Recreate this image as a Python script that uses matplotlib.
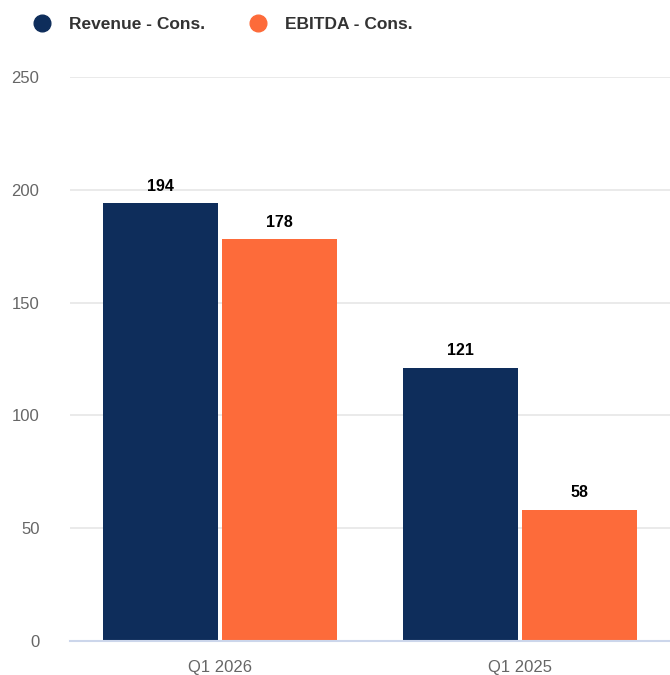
import numpy as np
import matplotlib.pyplot as plt
from matplotlib.lines import Line2D

plt.rcParams['font.family'] = ['Liberation Sans', 'DejaVu Sans']

# data
categories = ["Q1 2026", "Q1 2025"]
revenue = [194, 121]
ebitda = [178, 58]
series_names = ["Revenue - Cons.", "EBITDA - Cons."]
colors = ["#0e2d5b", "#fd6b3a"]

W, H = 670, 675
fig = plt.figure(figsize=(W / 100, H / 100), dpi=100)
ax = fig.add_axes([70 / W, (H - 641) / H, 600 / W, 564 / H])

x = np.arange(len(categories))
bw = 0.385
gap = 0.012

for vals, off, c in [(revenue, -(bw + gap) / 2, colors[0]), (ebitda, (bw + gap) / 2, colors[1])]:
    bars = ax.bar(x + off, vals, width=bw, color=c, zorder=3)
    for b, v in zip(bars, vals):
        ax.annotate(f"{v}", (b.get_x() + b.get_width() / 2, v), xytext=(0, 7),
                    textcoords="offset points", ha="center", va="bottom",
                    fontsize=11.5, fontweight="bold", color="black")

ax.set_xlim(-0.5, 1.5)
ax.set_ylim(0, 250)
ax.set_yticks([0, 50, 100, 150, 200, 250])
ax.set_xticks(x)
ax.set_xticklabels(categories)
ax.grid(axis="y", color="#e6e6e6", linewidth=1.2, zorder=0)
for s in ["top", "right", "left"]:
    ax.spines[s].set_visible(False)
ax.spines["bottom"].set_color("#ccd6eb")
ax.spines["bottom"].set_linewidth(1.5)
ax.spines["bottom"].set_zorder(4)
ax.tick_params(axis="both", length=0, labelsize=12, labelcolor="#666666")
ax.tick_params(axis="y", pad=22)
ax.tick_params(axis="x", pad=14)

handles = [Line2D([], [], marker="o", linestyle="", markersize=12, color=c) for c in colors]
fig.legend(handles, series_names, loc="center left", bbox_to_anchor=(9 / W, 1 - 24 / H),
           ncol=2, frameon=False, handletextpad=0.55, columnspacing=2.05,
           prop={"size": 12.5, "weight": "bold"}, labelcolor="#333333")

fig.savefig("out.png", dpi=100)
